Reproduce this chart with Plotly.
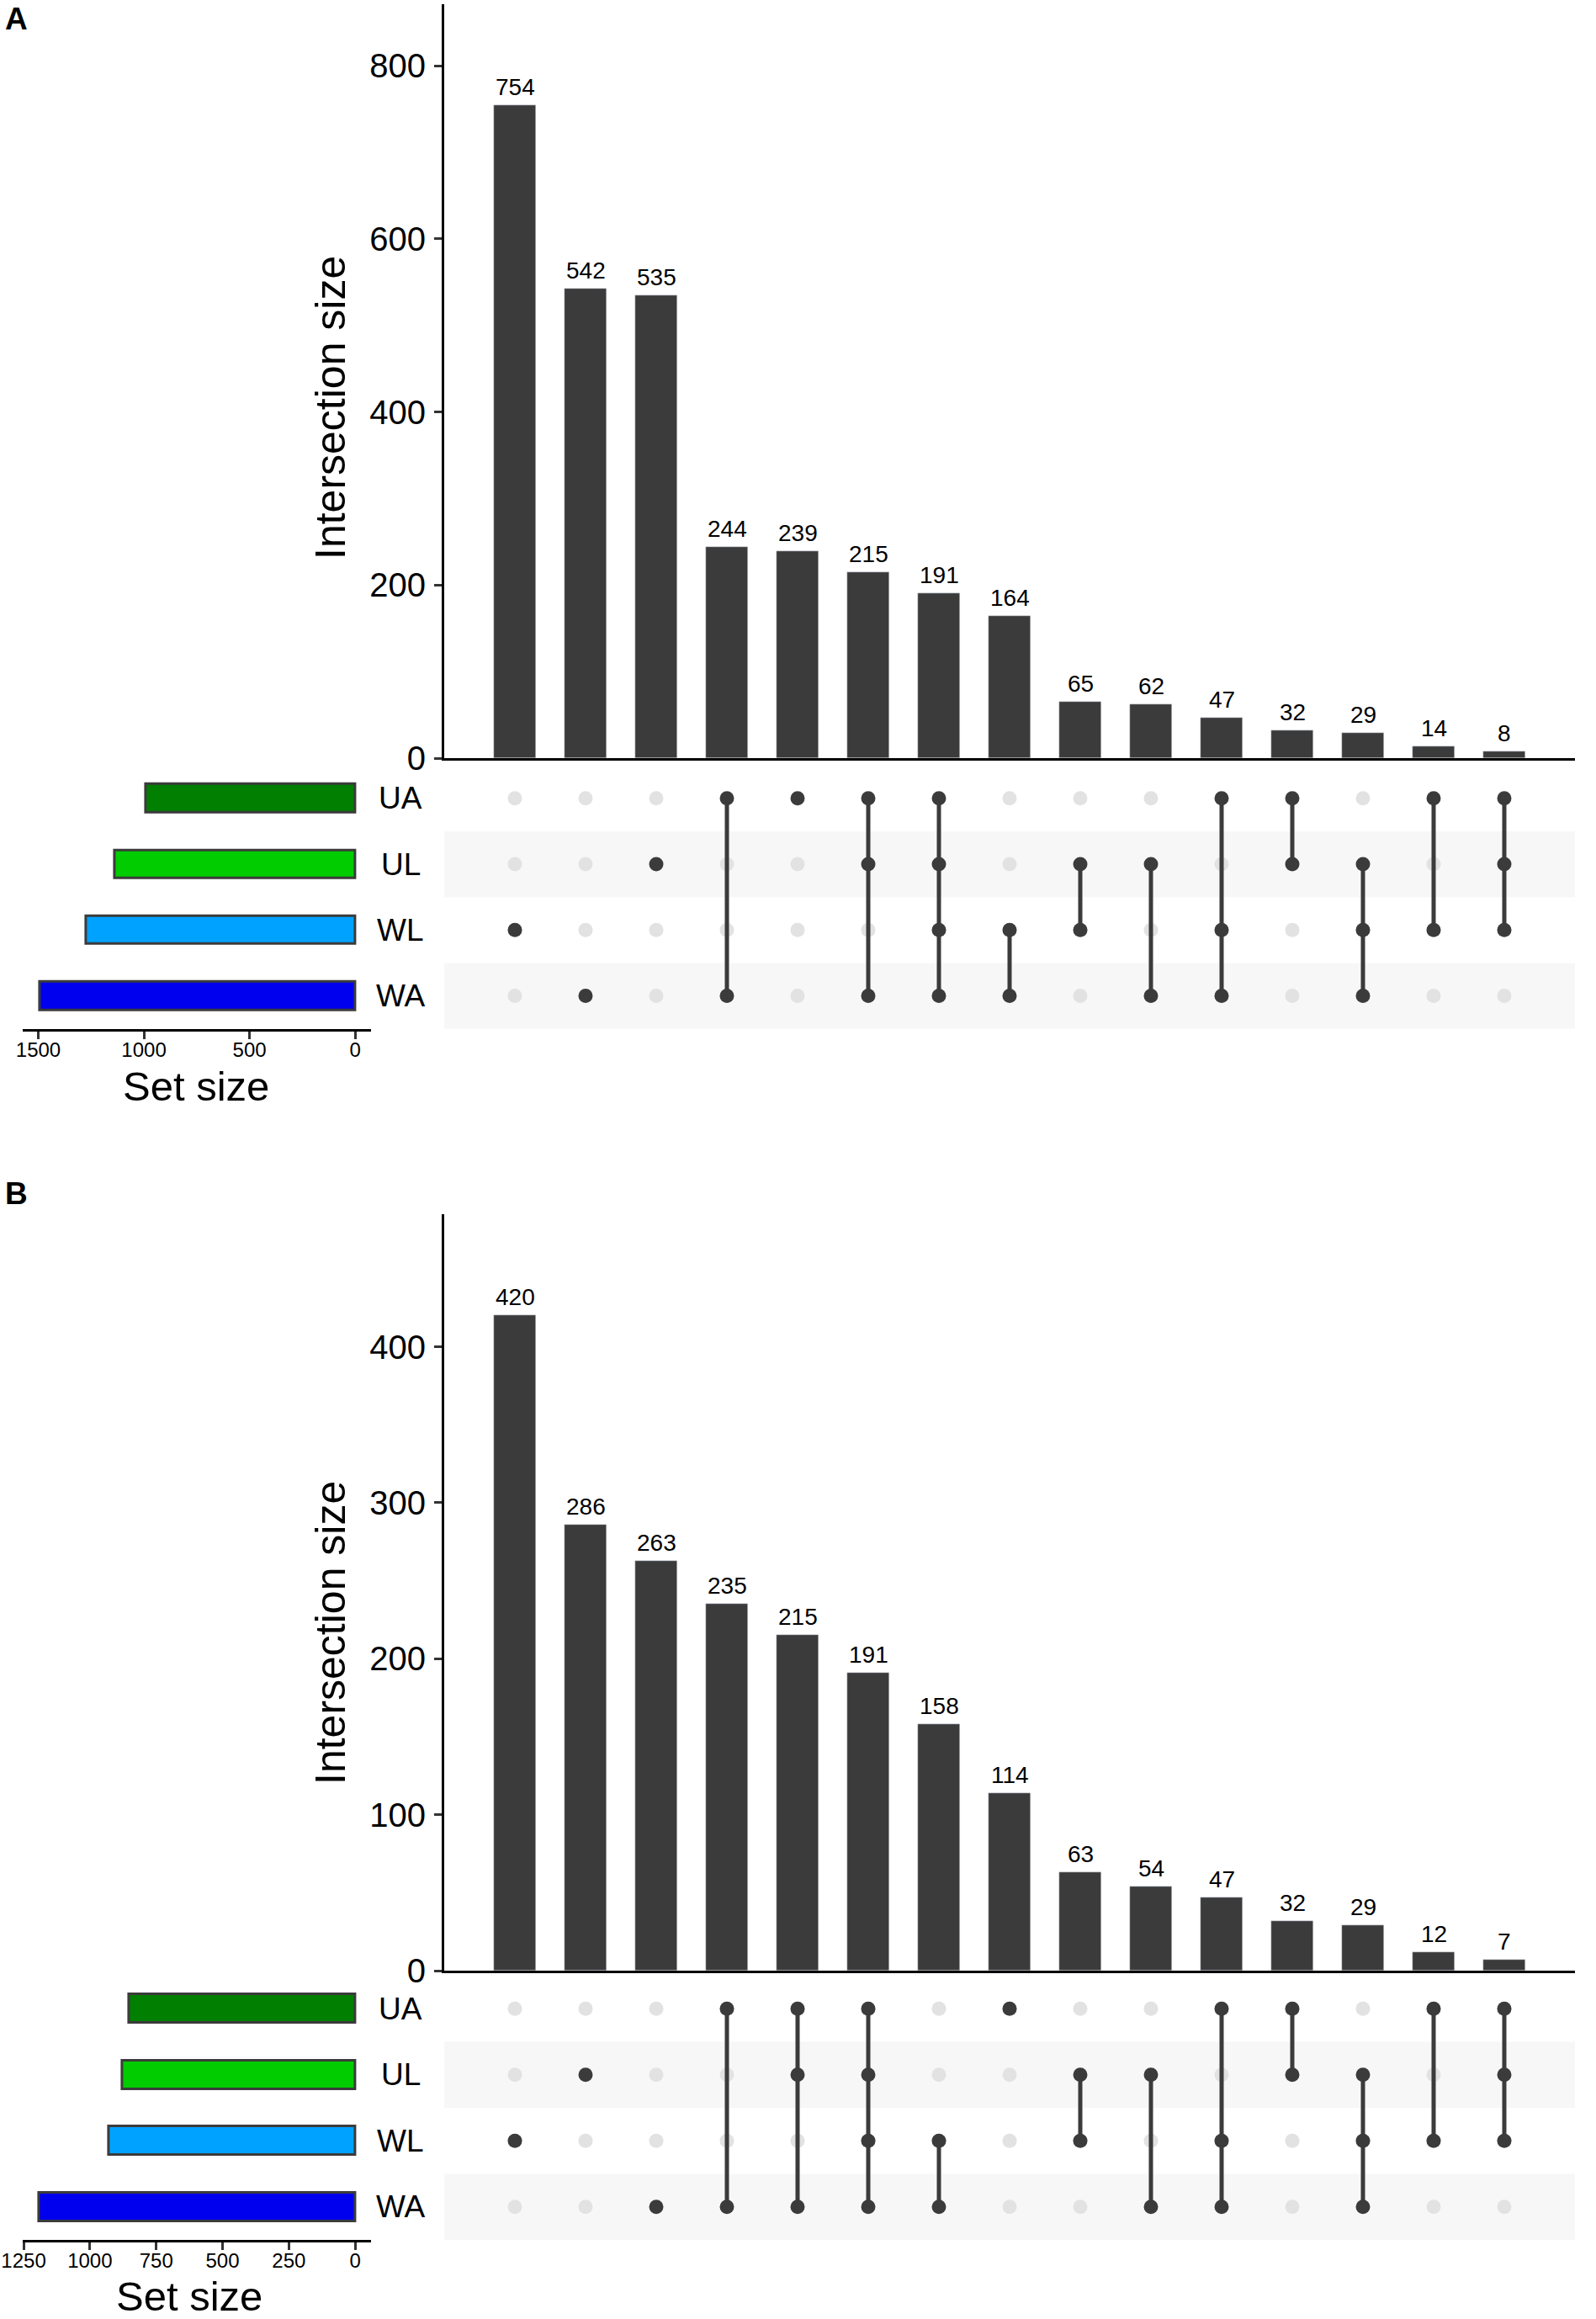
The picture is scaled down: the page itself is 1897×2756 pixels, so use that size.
import plotly.graph_objects as go

W, H = 1897, 2756

sets = ["UA", "UL", "WL", "WA"]
set_colors = ["#007f00", "#00cc00", "#00a2ff", "#0000ee"]

# panel A
sizes_a = [754, 542, 535, 244, 239, 215, 191, 164, 65, 62, 47, 32, 29, 14, 8]
combos_a = [["WL"], ["WA"], ["UL"], ["UA", "WA"], ["UA"], ["UA", "UL", "WA"],
            ["UA", "UL", "WL", "WA"], ["WL", "WA"], ["UL", "WL"], ["UL", "WA"],
            ["UA", "WL", "WA"], ["UA", "UL"], ["UL", "WL", "WA"], ["UA", "WL"],
            ["UA", "UL", "WL"]]
set_size_a = [990, 1137, 1272, 1494]
set_ticks_a = [1500, 1000, 500, 0]

# panel B
sizes_b = [420, 286, 263, 235, 215, 191, 158, 114, 63, 54, 47, 32, 29, 12, 7]
combos_b = [["WL"], ["UL"], ["WA"], ["UA", "WA"], ["UA", "UL", "WA"],
            ["UA", "UL", "WL", "WA"], ["WL", "WA"], ["UA"], ["UL", "WL"], ["UL", "WA"],
            ["UA", "WL", "WA"], ["UA", "UL"], ["UL", "WL", "WA"], ["UA", "WL"],
            ["UA", "UL", "WL"]]
set_size_b = [853, 877, 927, 1192]
set_ticks_b = [1250, 1000, 750, 500, 250, 0]

FONT = "Liberation Sans, Arial, sans-serif"
DARK = "#3b3b3b"
LIGHT = "#e2e2e2"
STRIPE = "#f7f7f7"

row_of = {"UA": 4, "UL": 3, "WL": 2, "WA": 1}


def px(x):
    return x / W


def py(y):
    return 1 - y / H


fig = go.Figure()


def panel(n, sizes, combos, set_size, set_ticks, ymax, ystep, bar_top, bar_bottom,
          mat_top, mat_bottom, setmax, letter, letter_y, ytitle_y, stitle_x, stitle_y):
    # axis ids for bars, matrix, set sizes
    ib, im, iset = 3 * n + 1, 3 * n + 2, 3 * n + 3
    xb, yb = ("x", "y") if ib == 1 else (f"x{ib}", f"y{ib}")
    xm, ym = f"x{im}", f"y{im}"
    xs, ys = f"x{iset}", f"y{iset}"
    cols = list(range(1, len(sizes) + 1))

    fig.add_trace(go.Bar(x=cols, y=sizes, width=0.6, marker_color=DARK,
                         xaxis=xb, yaxis=yb, showlegend=False, hoverinfo="x+y"))
    for c, v in zip(cols, sizes):
        fig.add_annotation(x=c, y=v, xref=xb, yref=yb, text=str(v), showarrow=False,
                           xanchor="center", yanchor="bottom", yshift=4,
                           font=dict(size=28, color="black", family=FONT))

    # matrix stripes
    for s in ["UL", "WA"]:
        r = row_of[s]
        fig.add_shape(type="rect", xref=xm, yref=ym, x0=0, x1=len(sizes) + 1,
                      y0=r - 0.5, y1=r + 0.5, fillcolor=STRIPE, line_width=0, layer="below")

    # inactive dots
    gx, gy = [], []
    for c, combo in zip(cols, combos):
        for s in sets:
            if s not in combo:
                gx.append(c)
                gy.append(row_of[s])
    fig.add_trace(go.Scatter(x=gx, y=gy, mode="markers", marker=dict(size=17, color=LIGHT),
                             xaxis=xm, yaxis=ym, showlegend=False, hoverinfo="skip"))
    # connecting lines
    lx, ly = [], []
    for c, combo in zip(cols, combos):
        rows = [row_of[s] for s in combo]
        if len(rows) > 1:
            lx += [c, c, None]
            ly += [min(rows), max(rows), None]
    fig.add_trace(go.Scatter(x=lx, y=ly, mode="lines", line=dict(color=DARK, width=5),
                             xaxis=xm, yaxis=ym, showlegend=False, hoverinfo="skip"))
    ax, ay = [], []
    for c, combo in zip(cols, combos):
        for s in combo:
            ax.append(c)
            ay.append(row_of[s])
    fig.add_trace(go.Scatter(x=ax, y=ay, mode="markers", marker=dict(size=17, color=DARK),
                             xaxis=xm, yaxis=ym, showlegend=False, hoverinfo="skip"))

    # set sizes
    fig.add_trace(go.Bar(x=set_size, y=[row_of[s] for s in sets], orientation="h", width=0.43,
                         marker=dict(color=set_colors, line=dict(color=DARK, width=3)),
                         xaxis=xs, yaxis=ys, showlegend=False, hoverinfo="x"))
    for s in sets:
        fig.add_annotation(x=px(476), y=row_of[s], xref="paper", yref=ym, text=s, showarrow=False,
                           xanchor="center", yanchor="middle",
                           font=dict(size=37, color="black", family=FONT))

    xd = [px(528), px(1872)]
    bar_dom = [py(bar_bottom), py(bar_top)]
    mat_dom = [py(mat_bottom), py(mat_top)]
    key = lambda a: a.replace("x", "xaxis").replace("y", "yaxis")
    fig.layout[key(xb)] = dict(domain=xd, range=[0, len(sizes) + 1], showticklabels=False, ticks="",
                               showline=True, linecolor="black", linewidth=3, showgrid=False,
                               zeroline=False, anchor=yb, automargin=False)
    fig.layout[key(yb)] = dict(domain=bar_dom, range=[0, ymax], dtick=ystep, tick0=0,
                               showline=True, linecolor="black",
                               linewidth=3, ticks="outside", ticklen=9, tickwidth=3, tickcolor="#333333",
                               tickfont=dict(size=40, color="black", family=FONT), ticklabelstandoff=2,
                               showgrid=False, zeroline=False, anchor=xb, automargin=False)
    fig.layout[key(xm)] = dict(domain=xd, range=[0, len(sizes) + 1], visible=False, anchor=ym,
                               automargin=False)
    fig.layout[key(ym)] = dict(domain=mat_dom, range=[0.5, 4.5], visible=False, anchor=xm,
                               automargin=False)
    fig.layout[key(xs)] = dict(domain=[px(27.4), px(441)], range=[setmax, -setmax * 0.05 / 1.05],
                               showline=True, linecolor="black", linewidth=3, ticks="outside",
                               ticklen=9, tickwidth=3, tickcolor="#333333", tickvals=set_ticks,
                               tickfont=dict(size=24, color="black", family=FONT), ticklabelstandoff=-8,
                               showgrid=False, zeroline=False, anchor=ys, automargin=False)
    fig.layout[key(ys)] = dict(domain=mat_dom, range=[0.5, 4.5], visible=False, anchor=xs,
                               automargin=False)

    fig.add_annotation(x=px(4), y=py(letter_y), xref="paper", yref="paper", text=f"<b>{letter}</b>",
                       xanchor="left", yanchor="middle", showarrow=False,
                       font=dict(size=37, color="black", family=FONT))
    fig.add_annotation(x=px(393), y=py(ytitle_y), xref="paper", yref="paper", text="Intersection size",
                       xanchor="center", yanchor="middle", textangle=-90, showarrow=False,
                       font=dict(size=50, color="black", family=FONT))
    fig.add_annotation(x=px(stitle_x), y=py(stitle_y), xref="paper", yref="paper", text="Set size",
                       xanchor="center", yanchor="middle", showarrow=False,
                       font=dict(size=49, color="black", family=FONT))


panel(0, sizes_a, combos_a, set_size_a, set_ticks_a, 871, 200, 5, 901, 909.7, 1222.7, 1572,
      "A", 22, 485, 233, 1291)
panel(1, sizes_b, combos_b, set_size_b, set_ticks_b, 485, 100, 1443, 2342, 2347.9, 2661.9, 1252,
      "B", 1418, 1941, 225, 2729)

fig.update_layout(width=W, height=H, margin=dict(l=0, r=0, t=0, b=0, autoexpand=False),
                  plot_bgcolor="white", paper_bgcolor="white",
                  font=dict(family=FONT, color="black"), bargap=0)

fig.write_html("out.html", config={"displayModeBar": False},
               post_script="document.body.style.margin='0';")
